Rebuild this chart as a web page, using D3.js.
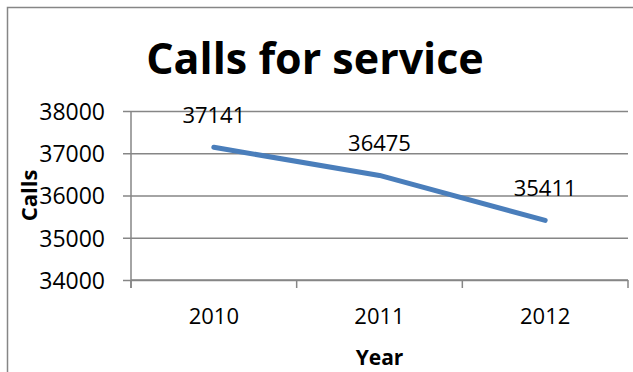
<!DOCTYPE html>
<html>
<head>
<meta charset="utf-8">
<script src="https://cdn.jsdelivr.net/npm/d3@7"></script>
<style>
  body { margin: 0; background: #fff; }
  text { font-family: "Open Sans", sans-serif; fill: #000; }
</style>
</head>
<body>
<div id="chart"></div>
<script>
// Chart data
const years = ['2010', '2011', '2012'];
const calls = [37141, 36475, 35411];
const yTicks = [34000, 35000, 36000, 37000, 38000];

const W = 633, H = 372;
const margin = { top: 111, right: 5, bottom: 92, left: 131 };
const width = W - margin.left - margin.right;
const height = H - margin.top - margin.bottom;

const svg = d3.select('#chart')
    .append('svg')
        .attr('width', W)
        .attr('height', H);

// Outer frame (only left and top edges are visible)
svg.append('path')
    .attr('d', `M7.5,${H} V7.5 H${W}`)
    .attr('fill', 'none')
    .attr('stroke', '#868686')
    .attr('stroke-width', 1.5);

const g = svg.append('g')
    .attr('transform', `translate(${margin.left},${margin.top})`);

// Scales
const x = d3.scaleBand()
    .domain(years)
    .range([0, width]);

const y = d3.scaleLinear()
    .domain([d3.min(yTicks), d3.max(yTicks)])
    .range([height, 0]);

// Gridlines
g.append('g')
    .attr('class', 'grid')
    .call(d3.axisLeft(y).tickValues(yTicks).tickSize(-width).tickFormat(''))
    .call(a => a.select('.domain').remove())
    .selectAll('line')
        .attr('stroke', '#868686')
        .attr('stroke-width', 1.5);

// Y axis
const yAxis = g.append('g')
    .call(d3.axisLeft(y).tickValues(yTicks).tickFormat(d3.format('d'))
        .tickSize(8).tickPadding(18).tickSizeOuter(0))
    .call(a => a.select('.domain').remove());
yAxis.selectAll('line').attr('stroke', '#868686').attr('stroke-width', 1.5);
yAxis.selectAll('text')
    .style('font-size', '23px')
    .attr('dy', '0.36em');

// y axis line (runs down past the x axis to the tick length)
g.append('line')
    .attr('x1', 0).attr('x2', 0)
    .attr('y1', 0).attr('y2', height + 8)
    .attr('stroke', '#868686')
    .attr('stroke-width', 1.5);

// X axis line and boundary ticks
g.append('line')
    .attr('x1', 0).attr('x2', width)
    .attr('y1', height).attr('y2', height)
    .attr('stroke', '#868686')
    .attr('stroke-width', 1.5);

const bounds = years.map(d => x(d)).concat([x.range()[1]]);
g.selectAll('.xtick')
    .data(bounds)
    .enter()
    .append('line')
        .attr('class', 'xtick')
        .attr('x1', d => d).attr('x2', d => d)
        .attr('y1', height).attr('y2', height + 8)
        .attr('stroke', '#868686')
        .attr('stroke-width', 1.5);

// X tick labels
g.selectAll('.xlabel')
    .data(years)
    .enter()
    .append('text')
        .attr('class', 'xlabel')
        .attr('x', d => x(d) + x.bandwidth() / 2)
        .attr('y', height + 44)
        .attr('text-anchor', 'middle')
        .style('font-size', '22px')
        .text(d => d);

// Line
const line = d3.line()
    .x((d, i) => x(years[i]) + x.bandwidth() / 2)
    .y(d => y(d));

g.append('path')
    .datum(calls)
    .attr('d', line)
    .attr('fill', 'none')
    .attr('stroke', '#4a7ebb')
    .attr('stroke-width', 5)
    .attr('stroke-linecap', 'round')
    .attr('stroke-linejoin', 'round');

// Data labels
g.selectAll('.dlabel')
    .data(calls)
    .enter()
    .append('text')
        .attr('class', 'dlabel')
        .attr('x', (d, i) => x(years[i]) + x.bandwidth() / 2)
        .attr('y', d => y(d) - 24)
        .attr('text-anchor', 'middle')
        .style('font-size', '22px')
        .text(d => d);

// Title
svg.append('text')
    .attr('x', 315)
    .attr('y', 74)
    .attr('text-anchor', 'middle')
    .style('font-size', '43px')
    .style('font-weight', 'bold')
    .text('Calls for service');

// Axis titles
svg.append('text')
    .attr('x', margin.left + width / 2)
    .attr('y', 365)
    .attr('text-anchor', 'middle')
    .style('font-size', '21px')
    .style('font-weight', 'bold')
    .text('Year');

svg.append('text')
    .attr('transform', `translate(37,${margin.top + height / 2}) rotate(-90)`)
    .attr('text-anchor', 'middle')
    .style('font-size', '22px')
    .style('font-weight', 'bold')
    .text('Calls');
</script>
</body>
</html>
